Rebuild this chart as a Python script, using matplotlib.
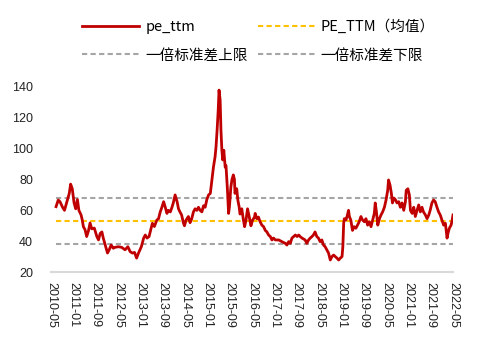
import pandas as pd
import matplotlib
matplotlib.use('Agg')
import matplotlib.pyplot as plt
import matplotlib.dates as mdates

# PE_TTM readings (date, value)
dates = [
    '2010-06-25', '2010-07-19', '2010-08-07', '2010-09-04', '2010-09-25', '2010-10-19', '2010-11-16',
    '2010-12-01', '2010-12-19', '2011-01-07', '2011-01-25', '2011-02-13', '2011-03-01', '2011-03-25',
    '2011-04-07', '2011-04-19', '2011-05-07', '2011-05-25', '2011-06-13', '2011-07-01', '2011-07-19',
    '2011-08-16', '2011-09-13', '2011-10-01', '2011-10-19', '2011-11-07', '2011-11-22', '2011-12-19',
    '2012-01-07', '2012-01-25', '2012-02-16', '2012-03-10', '2012-03-28', '2012-05-04', '2012-06-10',
    '2012-07-16', '2012-08-16', '2012-09-10', '2012-10-04', '2012-10-28', '2012-11-19', '2012-12-10',
    '2013-01-10', '2013-02-04', '2013-02-22', '2013-03-13', '2013-04-04', '2013-04-25', '2013-05-10',
    '2013-06-01', '2013-06-28', '2013-07-16', '2013-08-04', '2013-08-22', '2013-09-10', '2013-09-28',
    '2013-10-16', '2013-11-01', '2013-11-22', '2013-12-10', '2013-12-25', '2014-01-13', '2014-02-04',
    '2014-02-19', '2014-03-07', '2014-03-25', '2014-04-13', '2014-04-25', '2014-05-13', '2014-06-07',
    '2014-06-25', '2014-07-13', '2014-08-01', '2014-08-19', '2014-09-07', '2014-09-25', '2014-10-13',
    '2014-11-01', '2014-11-19', '2014-12-07', '2014-12-25', '2015-01-13', '2015-02-01', '2015-02-19',
    '2015-03-07', '2015-03-25', '2015-04-04', '2015-04-16', '2015-04-28', '2015-05-07', '2015-05-19',
    '2015-05-28', '2015-06-07', '2015-06-16', '2015-06-28', '2015-07-13', '2015-07-22', '2015-08-07',
    '2015-08-19', '2015-08-28', '2015-09-13', '2015-09-25', '2015-10-10', '2015-10-22', '2015-10-28',
    '2015-11-16', '2015-11-28', '2015-12-13', '2015-12-22', '2016-01-10', '2016-01-28', '2016-02-10',
    '2016-02-25', '2016-03-13', '2016-04-01', '2016-04-19', '2016-05-07', '2016-05-28', '2016-06-04',
    '2016-06-22', '2016-07-10', '2016-07-28', '2016-08-16', '2016-09-04', '2016-09-22', '2016-10-10',
    '2016-10-28', '2016-11-16', '2016-12-04', '2016-12-22', '2017-01-10', '2017-02-16', '2017-03-22',
    '2017-04-28', '2017-05-16', '2017-06-04', '2017-06-22', '2017-07-10', '2017-07-28', '2017-08-16',
    '2017-09-04', '2017-09-22', '2017-10-07', '2017-10-28', '2017-12-01', '2017-12-19', '2018-01-07',
    '2018-01-25', '2018-02-13', '2018-03-01', '2018-03-19', '2018-04-07', '2018-04-25', '2018-05-13',
    '2018-06-01', '2018-06-19', '2018-07-07', '2018-07-25', '2018-08-13', '2018-09-01', '2018-09-19',
    '2018-10-07', '2018-10-25', '2018-11-13', '2018-12-01', '2018-12-19', '2019-01-07', '2019-01-16',
    '2019-01-25', '2019-02-01', '2019-02-19', '2019-03-07', '2019-03-19', '2019-03-28', '2019-04-13',
    '2019-05-01', '2019-05-19', '2019-06-07', '2019-06-25', '2019-07-13', '2019-08-01', '2019-08-19',
    '2019-09-07', '2019-09-25', '2019-10-13', '2019-11-01', '2019-11-19', '2019-12-07', '2019-12-25',
    '2020-01-04', '2020-01-16', '2020-02-01', '2020-02-19', '2020-03-07', '2020-03-25', '2020-04-13',
    '2020-05-01', '2020-05-19', '2020-05-28', '2020-06-13', '2020-06-28', '2020-07-10', '2020-07-25',
    '2020-08-10', '2020-08-28', '2020-09-16', '2020-10-04', '2020-10-22', '2020-11-10', '2020-11-28',
    '2020-12-07', '2020-12-25', '2021-01-10', '2021-01-22', '2021-02-10', '2021-02-27', '2021-03-16',
    '2021-04-04', '2021-04-22', '2021-05-10', '2021-05-28', '2021-06-13', '2021-07-04', '2021-07-22',
    '2021-08-10', '2021-08-25', '2021-09-13', '2021-10-01', '2021-10-19', '2021-11-07', '2021-11-25',
    '2021-12-13', '2022-01-01', '2022-01-19', '2022-02-07', '2022-02-25', '2022-03-07', '2022-03-22',
    '2022-04-10', '2022-04-22', '2022-05-01',
]
pe_ttm = [
    62.4, 66.7, 65.6, 62, 60, 65, 71,
    77, 74, 65, 61, 67, 60, 57,
    53.7, 49.4, 47.5, 43, 46.6, 51.8, 48,
    48.5, 43, 40.8, 45, 46, 42, 36.4,
    32.3, 34.4, 37.5, 35.4, 36, 36.4, 36,
    34.4, 36.4, 33.2, 32.3, 32.7, 29, 32.3,
    36.4, 42, 44, 42, 43, 48, 51.6,
    49.5, 53.7, 54.5, 59, 62, 65.6, 62,
    58, 60, 59, 62, 65, 70, 65.6,
    61, 59, 57, 52, 50, 53.7, 56,
    52, 54.5, 59, 61, 60, 62, 60,
    59, 63, 62, 67, 70, 71, 79.7,
    88, 94.8, 101, 112, 125, 138, 131.6,
    112, 99, 92.7, 99, 88, 89, 73,
    58, 62, 75, 80, 83, 80, 71,
    74, 66.7, 62, 57.6, 61, 53.7, 49.4,
    53.7, 61, 55.6, 50, 53.7, 55.6, 58,
    54.6, 55.6, 52.6, 50.4, 49.4, 47, 46,
    44, 43, 40.8, 42, 40.8, 40.8, 39.7,
    38.6, 37.5, 39.7, 38.6, 42, 43, 44,
    43, 44, 43, 42, 40.8, 38.6, 40.8,
    42, 43, 44, 46, 43, 42, 39.7,
    40.8, 37.5, 36.4, 34.4, 32.3, 27.8, 30,
    31, 30, 29, 27.8, 29, 30, 36.4,
    51.6, 54.6, 53.7, 57, 60, 56, 53.7,
    47, 49.4, 48.4, 50.4, 52.6, 56, 53.7,
    52.6, 54.6, 50.4, 52.6, 49.4, 53.7, 58,
    64.8, 59.5, 50.4, 54.6, 57, 59, 62,
    66.7, 73, 79.7, 76.5, 71, 64.8, 68,
    67, 64.8, 65.6, 62, 64.8, 60, 65.6,
    73, 74, 70, 60, 58, 62, 56,
    60, 63.5, 59, 62, 59, 57, 54.6,
    57, 60, 64.8, 66.7, 65.6, 62, 59,
    57, 53.7, 50.4, 51.6, 42, 45, 48.4,
    50.4, 53.7, 57,
]
pe_mean = 53.3
pe_upper = 68.2
pe_lower = 38.4

x = pd.to_datetime(dates)
cjk = ['Noto Sans CJK SC', 'DejaVu Sans']

fig = plt.figure(figsize=(5.02, 3.47), dpi=100)
ax = fig.add_axes([0.1016, 0.2161, 0.8008, 0.5332])

l1, = ax.plot(x, pe_ttm, color='#C00000', lw=2.0, label='pe_ttm', zorder=3)
dash = (0, (2.5, 1.6))
l2, = ax.plot(x, [pe_mean] * len(x), color='#FFC000', lw=1.5, ls=dash, label='PE_TTM（均值）', zorder=2)
l3, = ax.plot(x, [pe_upper] * len(x), color='#A5A5A5', lw=1.5, ls=dash, label='一倍标准差上限', zorder=2)
l4, = ax.plot(x, [pe_lower] * len(x), color='#A5A5A5', lw=1.5, ls=dash, label='一倍标准差下限', zorder=2)

ax.set_ylim(20, 140)
ax.set_yticks(range(20, 141, 20))
ax.set_xlim(pd.Timestamp('2010-05-01'), pd.Timestamp('2022-05-01'))
xticks = pd.date_range('2010-05-01', '2022-05-01', freq='8MS')
ax.set_xticks(xticks)
ax.xaxis.set_major_formatter(mdates.DateFormatter('%Y-%m'))

for s in ['top', 'right', 'left']:
    ax.spines[s].set_visible(False)
ax.spines['bottom'].set_color('#D9D9D9')
ax.spines['bottom'].set_linewidth(1.5)
ax.tick_params(axis='y', length=0, pad=13, labelsize=9)
ax.tick_params(axis='x', length=0, pad=7, labelsize=9, rotation=-90)
for lab in ax.get_xticklabels() + ax.get_yticklabels():
    lab.set_family('Liberation Sans')
    lab.set_color('#222222')

# legend: two rows, two columns above the plot
leg = fig.legend([l1, l3, l2, l4], [l1.get_label(), l3.get_label(), l2.get_label(), l4.get_label()],
                 ncol=2, loc='center', bbox_to_anchor=(0.515, 1 - 41 / 347),
                 frameon=False, handlelength=3.9, handletextpad=0.4, columnspacing=0.7,
                 labelspacing=1.0, prop={'family': cjk, 'size': 10.5})

fig.savefig('out.png', dpi=100)
